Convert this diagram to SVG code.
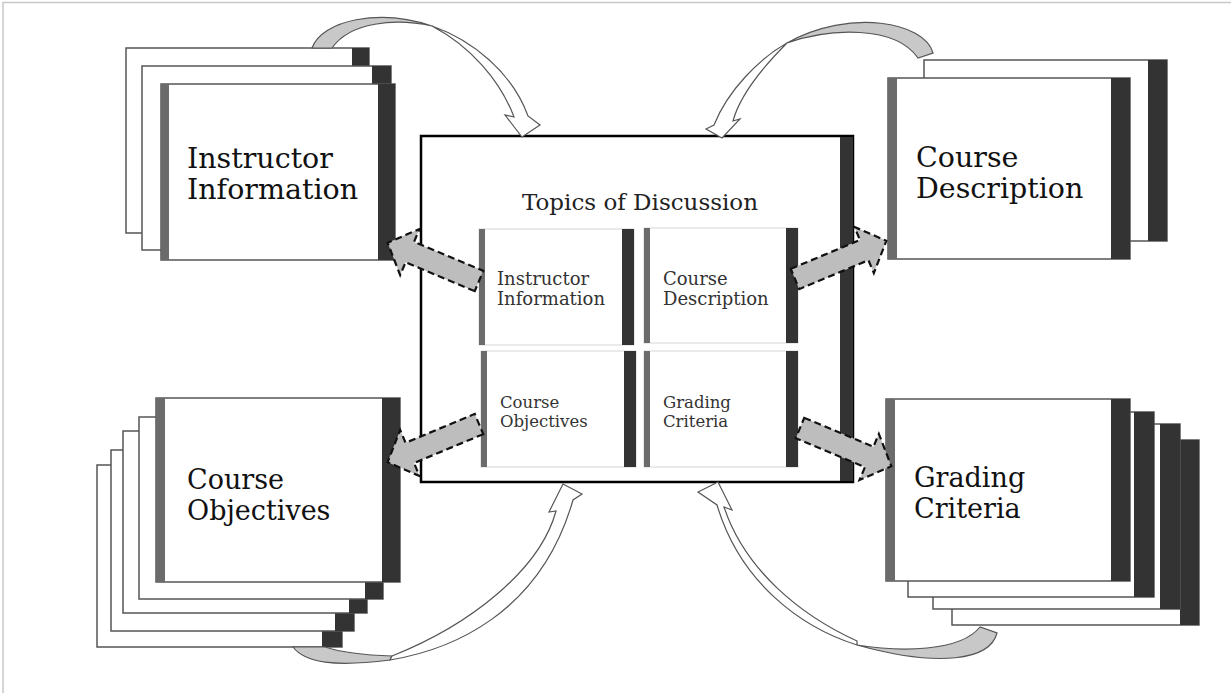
<svg xmlns="http://www.w3.org/2000/svg" width="1231" height="693" viewBox="0 0 1231 693">
<style>
.card{fill:#fff;stroke:#555;stroke-width:1.5}
.dark{fill:#333}
.gstrip{fill:#6b6b6b}
.inner{fill:#fff;stroke:#ddd;stroke-width:1.2}
.lbl{font-family:"DejaVu Serif","Liberation Serif",serif;font-size:28.5px;fill:#111}
.lbl2{font-family:"DejaVu Serif","Liberation Serif",serif;font-size:27px;fill:#111}
.ilbl{font-family:"DejaVu Serif","Liberation Serif",serif;font-size:18px;fill:#333}
.ilbl2{font-family:"DejaVu Serif","Liberation Serif",serif;font-size:16.5px;fill:#333}
.title{font-family:"DejaVu Serif","Liberation Serif",serif;font-size:23px;fill:#222}
.dash{fill:#bdbdbd;stroke:#111;stroke-width:2.2;stroke-dasharray:7 4;stroke-linejoin:miter}
.cgray{fill:#c8c8c8;stroke:#555;stroke-width:1.2}
.cwhite{fill:#fff;stroke:#555;stroke-width:1.2;stroke-linejoin:miter}
</style>
<defs>
<polygon id="blk" points="0,-11 75,-11 75,-25 99,0 75,25 75,11 0,11"/>
</defs>
<rect x="0" y="0" width="1231" height="693" fill="#fff"/>
<path d="M3,693 L3,2.5 L1231,2.5" fill="none" stroke="#c8c8c8" stroke-width="1.5"/>

<g id="node-instructor">
<rect class="card" x="126" y="48" width="243" height="185"/>
<rect class="dark" x="352" y="48" width="17" height="185"/>
<rect class="card" x="142" y="66" width="249" height="184"/>
<rect class="dark" x="372" y="66" width="19" height="184"/>
<rect class="card" x="161" y="84" width="234" height="176"/>
<rect class="gstrip" x="161" y="84" width="8" height="176"/>
<rect class="dark" x="378" y="84" width="17" height="176"/>
<text class="lbl" x="187" y="168">Instructor</text>
<text class="lbl" x="187" y="199">Information</text>
</g>

<g id="node-description">
<rect class="card" x="924" y="60" width="243" height="181"/>
<rect class="dark" x="1148" y="60" width="19" height="181"/>
<rect class="card" x="888" y="78" width="242" height="181"/>
<rect class="gstrip" x="888" y="78" width="9" height="181"/>
<rect class="dark" x="1111" y="78" width="19" height="181"/>
<text class="lbl" x="916" y="167">Course</text>
<text class="lbl" x="916" y="198">Description</text>
</g>

<g id="node-objectives">
<rect class="card" x="97" y="465" width="245" height="182"/>
<rect class="dark" x="322" y="465" width="20" height="182"/>
<rect class="card" x="111" y="450" width="243" height="181"/>
<rect class="dark" x="335" y="450" width="19" height="181"/>
<rect class="card" x="123" y="431" width="244" height="182"/>
<rect class="dark" x="349" y="431" width="18" height="182"/>
<rect class="card" x="139" y="417" width="244" height="182"/>
<rect class="dark" x="365" y="417" width="18" height="182"/>
<rect class="card" x="156" y="398" width="244" height="184"/>
<rect class="gstrip" x="156" y="398" width="9" height="184"/>
<rect class="dark" x="382" y="398" width="18" height="184"/>
<text class="lbl2" x="187" y="489">Course</text>
<text class="lbl2" x="187" y="520">Objectives</text>
</g>

<g id="node-grading">
<rect class="card" x="952" y="440" width="247" height="185"/>
<rect class="dark" x="1180" y="440" width="19" height="185"/>
<rect class="card" x="933" y="424" width="247" height="185"/>
<rect class="dark" x="1160" y="424" width="20" height="185"/>
<rect class="card" x="908" y="412" width="246" height="185"/>
<rect class="dark" x="1134" y="412" width="20" height="185"/>
<rect class="card" x="886" y="399" width="244" height="182"/>
<rect class="gstrip" x="886" y="399" width="9" height="182"/>
<rect class="dark" x="1111" y="399" width="19" height="182"/>
<text class="lbl2" x="914" y="487">Grading</text>
<text class="lbl2" x="914" y="518">Criteria</text>
</g>

<g id="node-topics">
<rect x="421" y="136" width="432" height="346" fill="#fff" stroke="#000" stroke-width="2.5"/>
<rect class="dark" x="840" y="137" width="13" height="344"/>
<text class="title" x="640" y="210" text-anchor="middle">Topics of Discussion</text>
<rect class="inner" x="479" y="229" width="155" height="116"/>
<rect class="gstrip" x="479" y="229" width="6" height="116"/>
<rect class="dark" x="622" y="229" width="12" height="116"/>
<text class="ilbl" x="497" y="285">Instructor</text>
<text class="ilbl" x="497" y="305">Information</text>
<rect class="inner" x="644" y="228" width="154" height="115"/>
<rect class="gstrip" x="644" y="228" width="6" height="115"/>
<rect class="dark" x="786" y="228" width="12" height="115"/>
<text class="ilbl" x="663" y="285">Course</text>
<text class="ilbl" x="663" y="305">Description</text>
<rect class="inner" x="481" y="351" width="155" height="116"/>
<rect class="gstrip" x="481" y="351" width="6" height="116"/>
<rect class="dark" x="624" y="351" width="12" height="116"/>
<text class="ilbl2" x="500" y="408">Course</text>
<text class="ilbl2" x="500" y="427">Objectives</text>
<rect class="inner" x="644" y="351" width="154" height="116"/>
<rect class="gstrip" x="644" y="351" width="6" height="116"/>
<rect class="dark" x="786" y="351" width="12" height="116"/>
<text class="ilbl2" x="663" y="408">Grading</text>
<text class="ilbl2" x="663" y="427">Criteria</text>
</g>

<g id="connectors">
<path class="cgray" d="M312,48 C322,20 380,8 432,26 C395,18 350,22 332,48 Z"/>
<path class="cwhite" d="M432,26 C472,40 512,72 528,116 L540,125 L522,137 L505,115 L514,117 C500,80 470,46 432,26 Z"/>
<path class="cgray" d="M933,53 C925,22 850,8 787,43 C830,28 895,25 918,58 Z"/>
<path class="cwhite" d="M787,43 C760,58 728,90 714,125 L706,129 L722,138 L740,119 L733,121 C740,95 765,65 787,43 Z"/>
<path class="cgray" d="M293,647 C305,663 335,667 390,660 L392,656 C360,655 340,652 325,647 Z"/>
<path class="cwhite" d="M390,660 C450,650 540,615 573,500 L582,494 L563,484 L549,512 L556,511 C540,570 470,625 392,656 Z"/>
<path class="cgray" d="M997,633 C990,660 940,668 857,645 C900,652 960,652 980,627 Z"/>
<path class="cwhite" d="M857,645 C800,627 740,582 717,505 L698,492 L718,482 L732,510 L724,507 C745,570 800,615 857,641 Z"/>
<use href="#blk" class="dash" transform="translate(479,281) rotate(202.7)"/>
<use href="#blk" class="dash" transform="translate(795,279) rotate(-22.7)"/>
<use href="#blk" class="dash" transform="translate(479,424) rotate(157.3)"/>
<use href="#blk" class="dash" transform="translate(800,428) rotate(22.7)"/>
</g>
</svg>
